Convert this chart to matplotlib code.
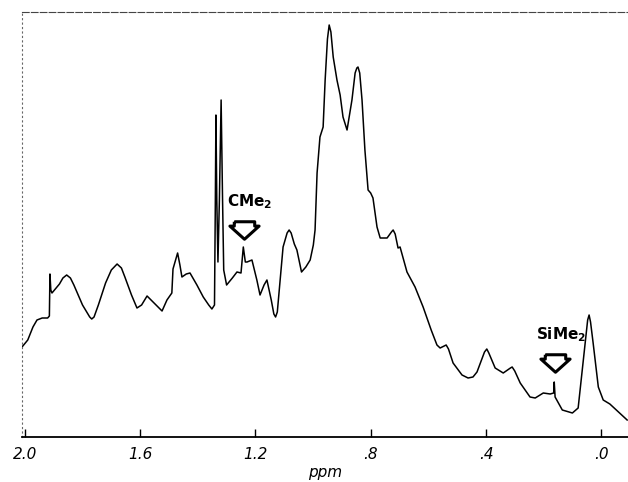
import numpy as np
import matplotlib.pyplot as plt

# 1H NMR trace (ppm, arbitrary intensity)
ppm = [2.010, 1.990, 1.972, 1.958, 1.940, 1.921, 1.915, 1.913, 1.910, 1.906,
       1.880, 1.868, 1.855, 1.842, 1.830, 1.800, 1.775, 1.768, 1.760, 1.745,
       1.720, 1.700, 1.680, 1.665,
       1.653, 1.630, 1.611, 1.595, 1.576, 1.555, 1.524, 1.507, 1.490, 1.486,
       1.470, 1.462, 1.455, 1.440, 1.427, 1.403, 1.381, 1.362, 1.351, 1.342,
       1.339, 1.337, 1.334, 1.330, 1.325, 1.319, 1.314, 1.310, 1.300, 1.280,
       1.264, 1.250, 1.242, 1.235, 1.229, 1.212, 1.195, 1.184, 1.170, 1.160,
       1.145, 1.136, 1.130, 1.124, 1.104, 1.090, 1.083, 1.076, 1.065, 1.056,
       1.040, 1.025, 1.010, 0.999, 0.993, 0.986, 0.976, 0.965, 0.958, 0.950,
       0.944, 0.938, 0.930, 0.917, 0.906,
       0.896, 0.882, 0.865, 0.854, 0.848, 0.844, 0.838, 0.830, 0.820, 0.809,
       0.800, 0.792,
       0.778, 0.767, 0.743, 0.728, 0.722, 0.715, 0.705, 0.698, 0.674, 0.646,
       0.618, 0.590,
       0.570, 0.559, 0.545, 0.538, 0.530, 0.514, 0.483, 0.462, 0.445, 0.431,
       0.405, 0.397, 0.390, 0.368, 0.340,
       0.315, 0.309, 0.300, 0.281, 0.247, 0.229, 0.201, 0.177, 0.165, 0.163,
       0.160, 0.135,
       0.100, 0.080, 0.063, 0.047, 0.042, 0.037, 0.028, 0.010, -0.007, -0.030,
       -0.060, -0.090]
intensity = [90, 97, 110, 117, 119, 119, 121, 163, 147, 144,
             153, 159, 162, 159, 152, 132, 120, 118, 120, 132,
             154, 167, 173, 169,
             160, 142, 129, 132, 141, 135, 126, 137, 144, 168,
             184, 172, 160, 163, 164, 152, 140, 132, 128, 132,
             237, 322, 237, 175, 237, 337, 237, 167, 152, 159,
             165, 164, 190, 175, 175, 177, 157, 142, 152, 157,
             137, 123, 120, 125, 190, 204, 207, 204, 193, 187,
             165, 170, 177, 192, 207, 264, 300, 310, 357, 398,
             412, 405, 380, 357, 342,
             320, 307, 337, 364, 369, 370, 364, 337, 287, 247,
             244, 239,
             210, 199, 199, 205, 207, 203, 189, 190, 165, 150,
             130, 107,
             92, 89, 91, 92, 88, 74, 62, 59, 60, 65,
             85, 88, 84, 69, 64,
             69, 70, 66, 54, 40, 39, 44, 43, 44, 55,
             40, 27,
             24, 29, 74, 117, 122, 115, 94, 50, 37, 33,
             25, 17]

xticks = [2.0, 1.6, 1.2, 0.8, 0.4, 0.0]
xticklabels = ['2.0', '1.6', '1.2', '.8', '.4', '.0']

# annotated signals: (label, arrow ppm, arrow height, label height)
labels = ['CMe$_\\mathbf{2}$', 'SiMe$_\\mathbf{2}$']
label_ppm = [1.24, 0.16]
arrow_y = [207, 74]
label_y = [235, 102]

fig = plt.figure(figsize=(6.28, 4.82), dpi=100)
ax = fig.add_axes([22 / 628, 45 / 482, 606 / 628, 425 / 482])

ax.plot(ppm, intensity, color='black', lw=1.1)

ax.set_xlim(2.01, -0.093)
ax.set_ylim(0, 425)

# hollow block arrow pointing down
arrow = [(-0.7, 0.6), (0.7, 0.6), (0.7, 0.3), (1, 0.3), (0, -0.6), (-1, 0.3),
         (-0.7, 0.3), (-0.7, 0.6)]
for lab, xp, ya, yl in zip(labels, label_ppm, arrow_y, label_y):
    ax.plot([xp], [ya], marker=arrow, markersize=21, markerfacecolor='white',
            markeredgecolor='black', markeredgewidth=2.2, linestyle='none')
    ax.text(xp - 0.02, yl, lab, ha='center', va='center', fontsize=11,
            fontweight='bold', color='black')

ax.set_xticks(xticks)
ax.set_xticklabels(xticklabels, fontsize=11, fontstyle='italic')
ax.tick_params(axis='x', which='major', direction='in', length=6, width=1, pad=7)
ax.set_yticks([])
ax.set_xlabel('ppm', fontsize=11, fontstyle='italic', labelpad=2)

ax.spines['right'].set_visible(False)
ax.spines['bottom'].set_linewidth(1.3)
ax.spines['top'].set_linestyle((0, (6, 2)))
ax.spines['top'].set_linewidth(0.8)
ax.spines['top'].set_color('#444444')
ax.spines['left'].set_linestyle((0, (1, 3)))
ax.spines['left'].set_linewidth(0.8)
ax.spines['left'].set_color('#666666')

fig.savefig('out.png', dpi=100)
